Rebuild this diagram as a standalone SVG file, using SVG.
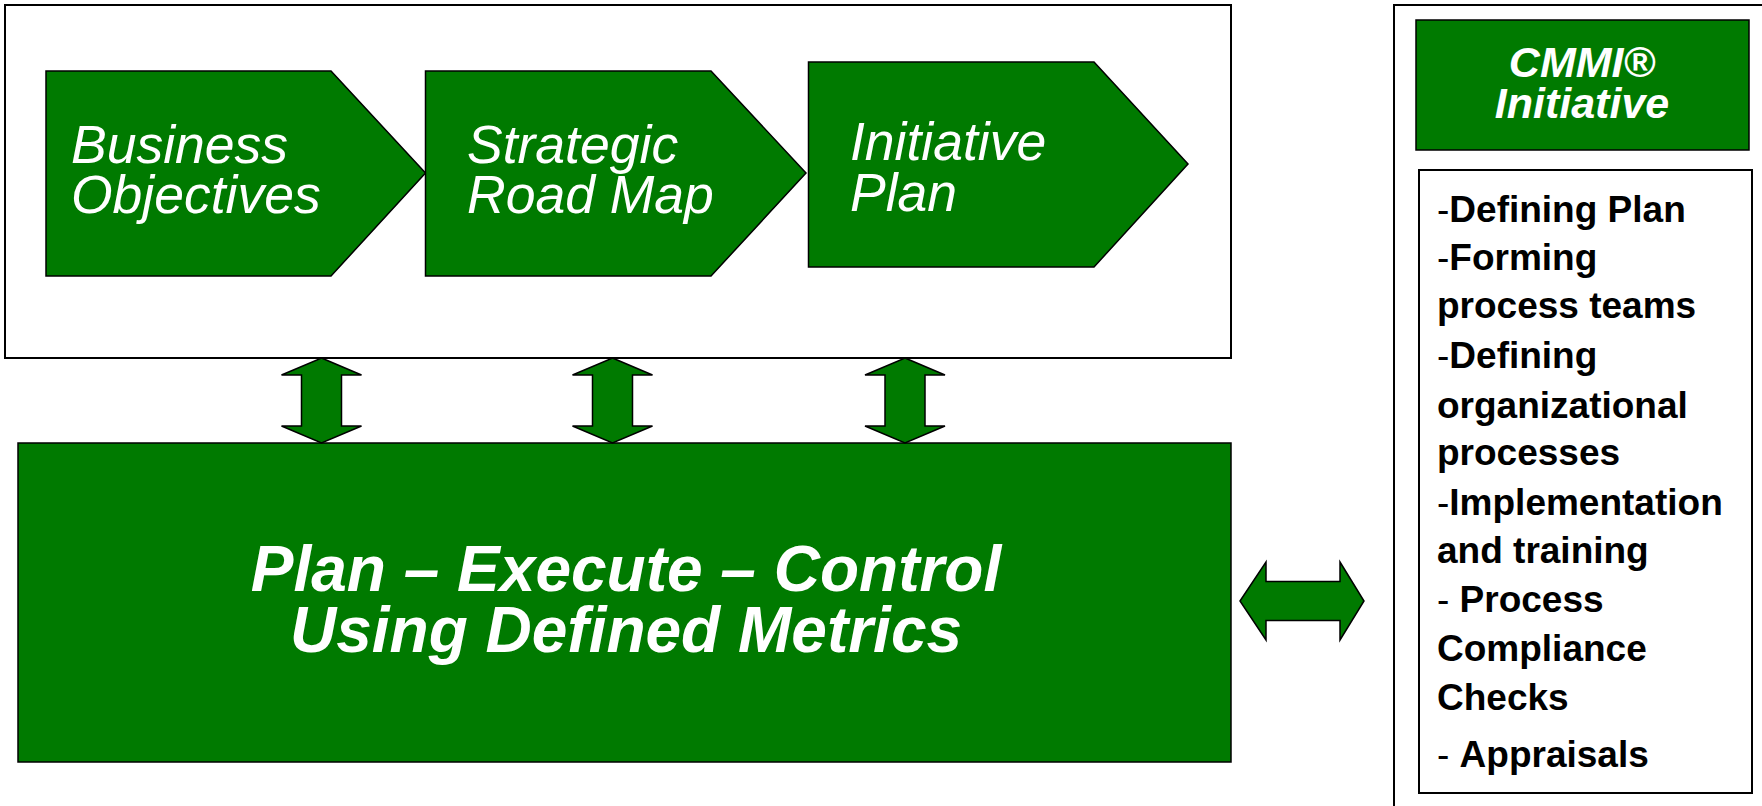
<svg xmlns="http://www.w3.org/2000/svg" width="1762" height="806" viewBox="0 0 1762 806">
<style>
.frame{fill:#ffffff;stroke:#000000;stroke-width:2}
.g{fill:#007A00;stroke:#000000;stroke-width:1.5}
.t1{font-family:"Liberation Sans",Arial,sans-serif;font-style:italic;font-size:53.5px;fill:#ffffff}
.t2{font-family:"Liberation Sans",Arial,sans-serif;font-style:italic;font-weight:bold;font-size:64px;fill:#ffffff;text-anchor:middle}
.t3{font-family:"Liberation Sans",Arial,sans-serif;font-style:italic;font-weight:bold;font-size:43px;fill:#ffffff;text-anchor:middle}
.t4{font-family:"Liberation Sans",Arial,sans-serif;font-weight:bold;font-size:37px;fill:#000000}
.d{font-weight:normal}
</style>
<rect width="1762" height="806" fill="#ffffff"/>
<g id="top-frame">
<rect class="frame" x="5" y="5" width="1226" height="353"/>
</g>
<g id="business-objectives">
<polygon class="g" points="46,71 331,71 425.5,173 331,276 46,276"/>
<text class="t1" x="71" y="163">Business</text>
<text class="t1" x="71" y="213">Objectives</text>
</g>
<g id="strategic-road-map">
<polygon class="g" points="425.5,71 711,71 806,173 711,276 425.5,276"/>
<text class="t1" x="467" y="163">Strategic</text>
<text class="t1" x="467" y="213">Road Map</text>
</g>
<g id="initiative-plan">
<polygon class="g" points="808.5,62 1094,62 1188,164 1094,267 808.5,267"/>
<text class="t1" x="850" y="160">Initiative</text>
<text class="t1" x="850" y="211">Plan</text>
</g>
<g id="plan-execute-control">
<rect class="g" x="18" y="443" width="1213" height="319"/>
<text class="t2" x="626" y="591">Plan – Execute – Control</text>
<text class="t2" x="626" y="652">Using Defined Metrics</text>
</g>
<g id="cmmi-panel">
<rect class="frame" x="1394" y="5" width="380" height="820"/>
<rect class="g" x="1416" y="20" width="333" height="130"/>
<text class="t3" x="1582" y="77">CMMI®</text>
<text class="t3" x="1582" y="118">Initiative</text>
<rect class="frame" x="1419" y="170" width="333" height="623"/>
<text class="t4" x="1437" y="222"><tspan class="d">-</tspan>Defining Plan</text>
<text class="t4" x="1437" y="270"><tspan class="d">-</tspan>Forming</text>
<text class="t4" x="1437" y="318">process teams</text>
<text class="t4" x="1437" y="368"><tspan class="d">-</tspan>Defining</text>
<text class="t4" x="1437" y="418">organizational</text>
<text class="t4" x="1437" y="465">processes</text>
<text class="t4" x="1437" y="515"><tspan class="d">-</tspan>Implementation</text>
<text class="t4" x="1437" y="563">and training</text>
<text class="t4" x="1437" y="612"><tspan class="d">- </tspan>Process</text>
<text class="t4" x="1437" y="661">Compliance</text>
<text class="t4" x="1437" y="710">Checks</text>
<text class="t4" x="1437" y="767"><tspan class="d">- </tspan>Appraisals</text>
</g>
<g id="connectors">
<polygon class="g" points="321.5,358 361.5,375 341.5,375 341.5,426 361.5,426 321.5,443 281.5,426 301.5,426 301.5,375 281.5,375"/>
<polygon class="g" points="612.5,358 652.5,375 632.5,375 632.5,426 652.5,426 612.5,443 572.5,426 592.5,426 592.5,375 572.5,375"/>
<polygon class="g" points="905,358 945,375 925,375 925,426 945,426 905,443 865,426 885,426 885,375 865,375"/>
<polygon class="g" points="1240,601 1266,562 1266,581.5 1340,581.5 1340,562 1364,601 1340,640 1340,620.5 1266,620.5 1266,640"/>
</g>
</svg>
